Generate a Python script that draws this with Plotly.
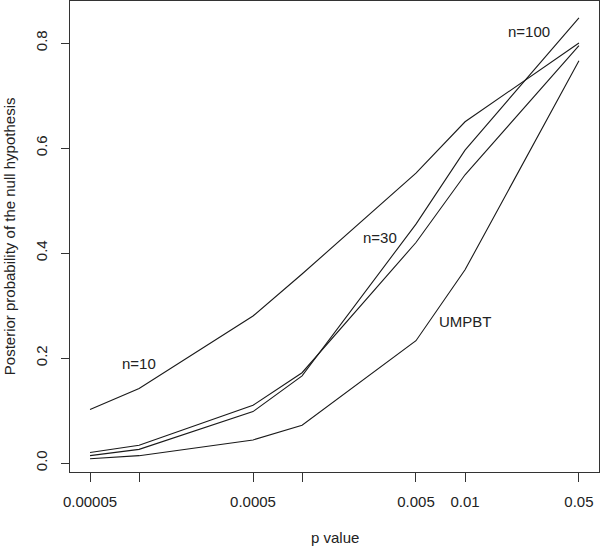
import plotly.graph_objects as go
import math

p_values = [0.00005, 0.0001, 0.0005, 0.001, 0.005, 0.01, 0.05]
n10 = [0.102, 0.142, 0.280, 0.360, 0.552, 0.650, 0.800]
n30 = [0.020, 0.034, 0.110, 0.172, 0.420, 0.549, 0.795]
n100 = [0.014, 0.026, 0.098, 0.166, 0.455, 0.596, 0.848]
umpbt = [0.008, 0.014, 0.044, 0.072, 0.233, 0.368, 0.766]

x_tickvals = [0.00005, 0.0001, 0.0005, 0.001, 0.005, 0.01, 0.05]
x_ticktext = ["0.00005", "", "0.0005", "", "0.005", "0.01", "0.05"]
y_tickvals = [0.0, 0.2, 0.4, 0.6, 0.8]
y_ticktext = ["0.0", "0.2", "0.4", "0.6", "0.8"]

labels = ["n=10", "n=30", "n=100", "UMPBT"]
label_x = [0.0001, 0.003, 0.0247, 0.01]
label_y = [0.19, 0.43, 0.821, 0.269]

FONT = "Liberation Sans, Arial, Helvetica, sans-serif"
INK = "#222222"
FS = 15

fig = go.Figure()
for ys in [n10, n30, n100, umpbt]:
    fig.add_trace(go.Scatter(x=p_values, y=ys, mode="lines",
                             line=dict(color="#1a1a1a", width=1.1),
                             showlegend=False, hoverinfo="skip"))

for t, lx, ly in zip(labels, label_x, label_y):
    fig.add_annotation(x=math.log10(lx), y=ly, text=t, showarrow=False,
                       xref="x", yref="y",
                       font=dict(family=FONT, size=FS, color=INK))

fig.add_annotation(x=0.5, y=-0.14, xref="paper", yref="paper",
                   text="p value", showarrow=False, xanchor="center", yanchor="middle",
                   font=dict(family=FONT, size=FS, color=INK))
fig.add_annotation(x=-0.114, y=0.5, xref="paper", yref="paper",
                   text="Posterior probability of the null hypothesis", showarrow=False,
                   textangle=-90, xanchor="center", yanchor="middle",
                   font=dict(family=FONT, size=FS, color=INK))

fig.update_layout(
    width=600, height=547,
    margin=dict(l=70, r=1, t=1, b=75, autoexpand=False),
    paper_bgcolor="white", plot_bgcolor="white",
    font=dict(family=FONT, size=FS, color=INK),
)
fig.update_xaxes(type="log", range=[-4.424, -1.178], automargin=False,
                 tickvals=x_tickvals, ticktext=x_ticktext,
                 ticks="outside", ticklen=9, tickcolor="#333", tickwidth=1,
                 showline=True, linecolor="#333", linewidth=1, mirror=True,
                 showgrid=False, zeroline=False, ticklabelstandoff=7,
                 tickfont=dict(family=FONT, size=FS, color=INK))
fig.update_yaxes(range=[-0.0171, 0.88], automargin=False,
                 tickvals=y_tickvals, ticktext=y_ticktext, tickangle=-90,
                 ticks="outside", ticklen=8, tickcolor="#333", tickwidth=1,
                 showline=True, linecolor="#333", linewidth=1, mirror=True,
                 showgrid=False, zeroline=False, ticklabelstandoff=8,
                 tickfont=dict(family=FONT, size=FS, color=INK))

fig.write_html("out.html", config={"displayModeBar": False},
               post_script="document.body.style.margin='0';document.body.style.overflow='hidden';")
